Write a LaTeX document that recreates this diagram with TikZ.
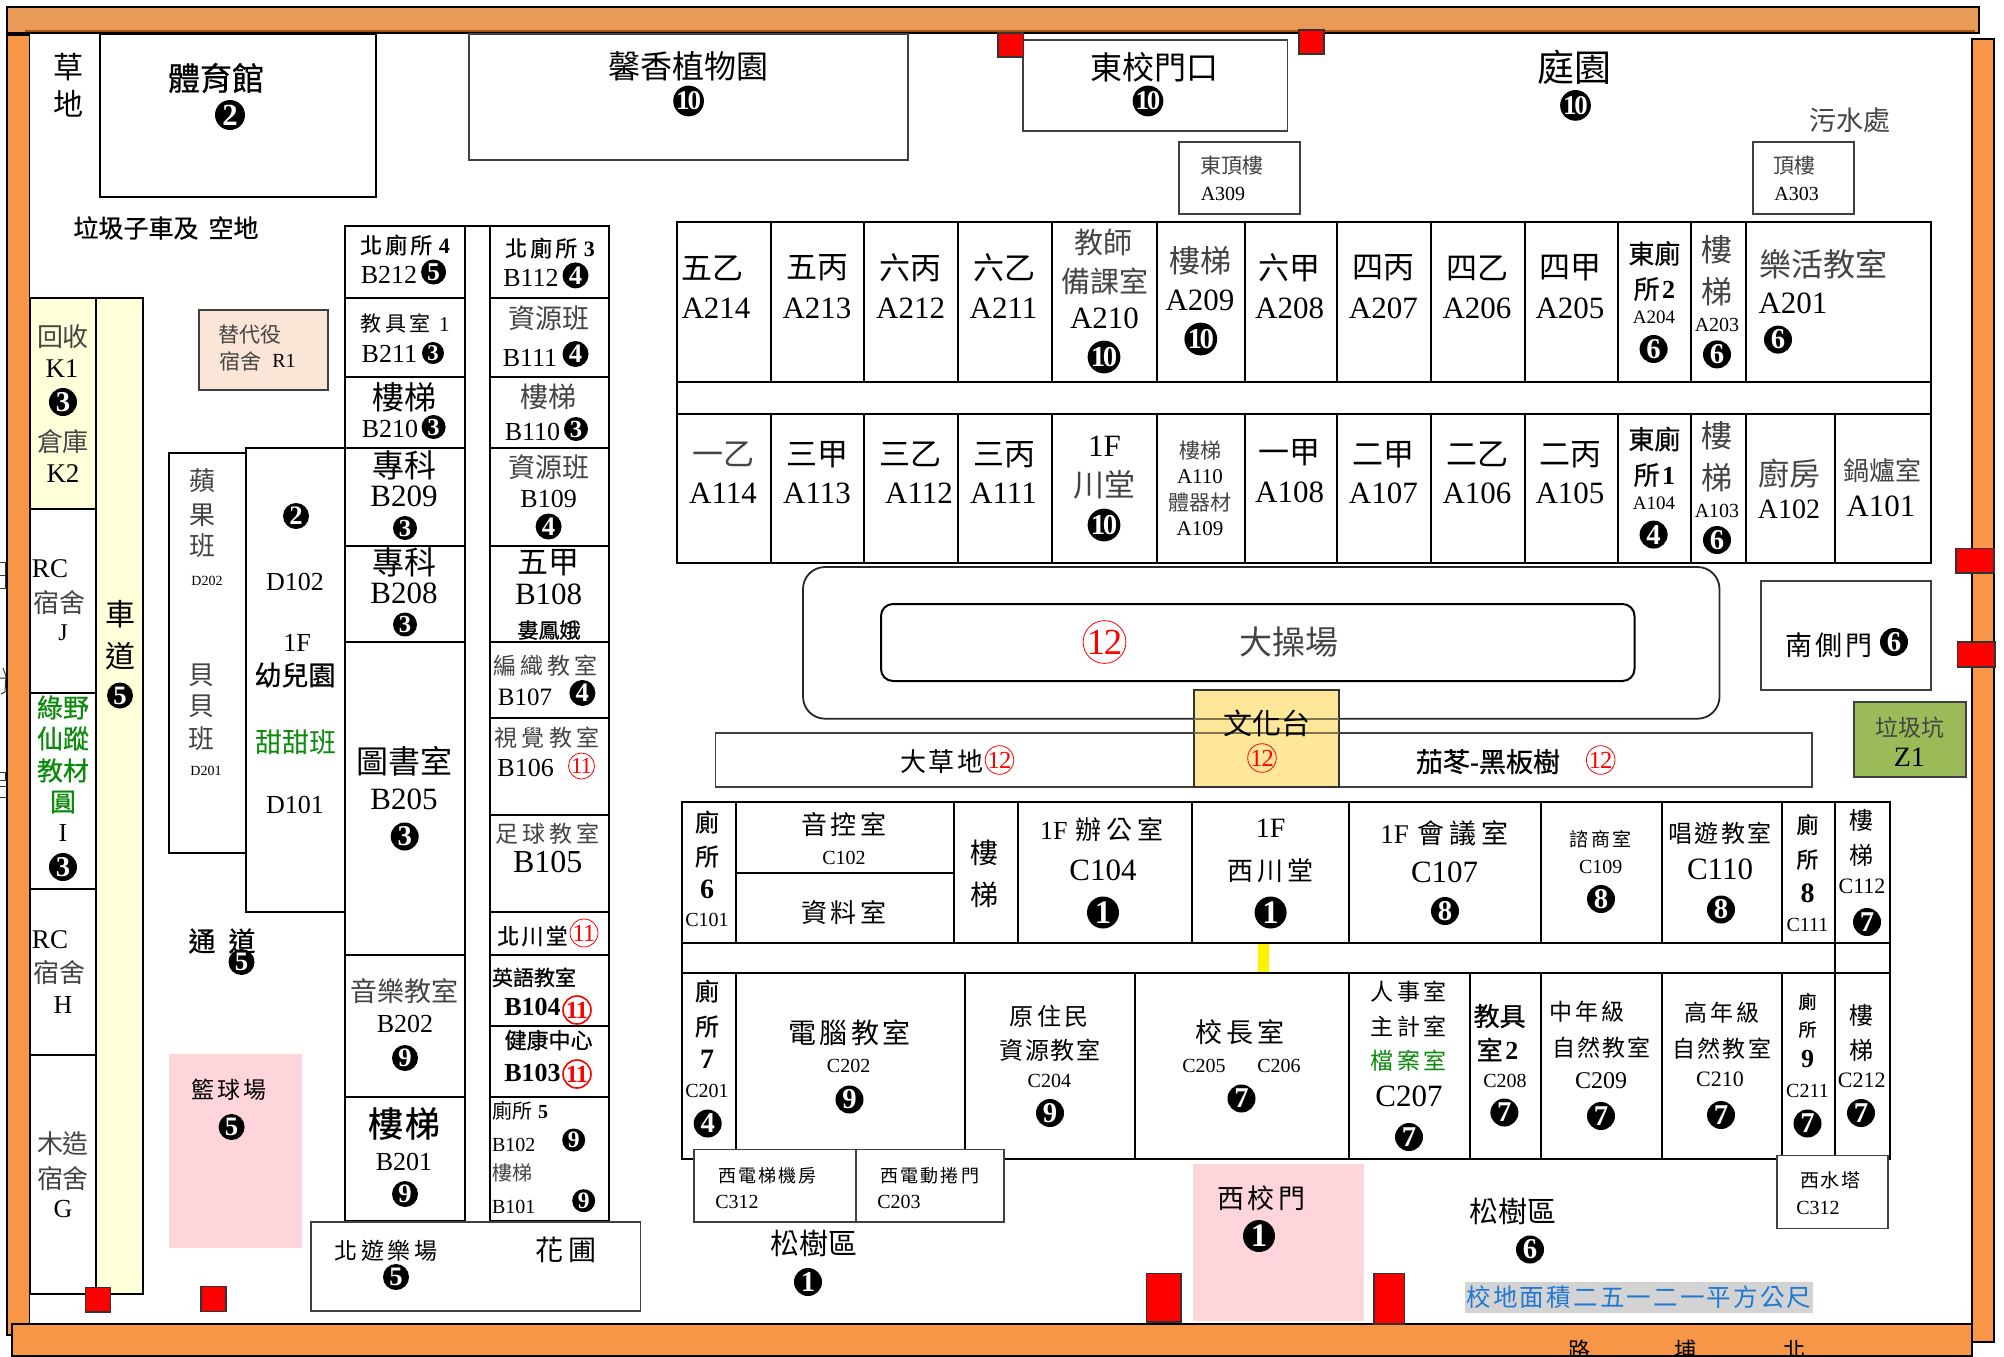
\documentclass[tikz,border=0pt]{standalone}
\usepackage{fontspec}
\setmainfont{Liberation Serif}
\newfontfamily\cjk{Noto Sans CJK TC}
\newfontfamily\cjkm[FakeBold=0.7]{Noto Sans CJK TC}
\usetikzlibrary{calc}
\definecolor{wallA}{HTML}{F79646}
\definecolor{wallB}{HTML}{E99A57}
\definecolor{wallC}{HTML}{A5500F}
\definecolor{cream}{HTML}{FFFFD9}
\definecolor{pinkz}{HTML}{FFD5DC}
\definecolor{peach}{HTML}{FBE5D6}
\definecolor{stagez}{HTML}{FFE799}
\definecolor{grassz}{HTML}{9BBB59}
\definecolor{greenz}{HTML}{0A8A0A}
\definecolor{bluez}{HTML}{1F78D2}
\definecolor{grayz}{HTML}{D3D3D3}
\definecolor{gy}{HTML}{444444}
\definecolor{redz}{HTML}{FF0000}
\tikzset{
  room/.style={draw=black,line width=1pt},
  roomg/.style={draw=black!75,line width=0.9pt,fill=white},
  redbox/.style={draw=black!80,line width=0.7pt,fill=redz},
  wall/.style={draw=black,line width=0.7pt,fill=wallA},
  lbl/.style={inner sep=0pt,outer sep=0pt,anchor=center},
  blackdot/.style={circle,fill=black,text=white,inner sep=0pt,outer sep=0pt},
  reddot/.style={circle,draw=redz,text=redz,inner sep=0pt,outer sep=0pt,line width=0.4pt},
}
\newcount\tn
\newcommand\fs[1]{\pgfmathsetlengthmacro\tmpfs{#1*0.5}\fontsize{\tmpfs}{\tmpfs}\selectfont}
\newcommand\lt[1]{{\rmfamily #1}}
\newcommand\lsp[1]{\addfontfeature{LetterSpace=#1}}
\newcommand\ZH[5][]{\global\advance\tn1 \node[lbl,#1] (t\the\tn) at (#2,#3) {\fs{#4}\cjk #5};}
\newcommand\ZB[5][]{\global\advance\tn1 \node[lbl,#1] (t\the\tn) at (#2,#3) {\fs{#4}\cjkm #5};}
\newcommand\LA[5][]{\global\advance\tn1 \node[lbl,#1] (t\the\tn) at (#2,#3) {\fs{#4}#5};}
\newcommand\LB[5][]{\global\advance\tn1 \node[lbl,#1] (t\the\tn) at (#2,#3) {\fs{#4}\bfseries #5};}
\newcommand\BC[4]{\global\advance\tn1 \node[blackdot,minimum size=#3pt] (t\the\tn) at (#1,#2) {\pgfmathsetmacro\tmpr{#3*2.05}\fs{\tmpr}\bfseries #4};}
\newcommand\BD[4]{\global\advance\tn1 \node[blackdot,minimum size=#3pt] (t\the\tn) at (#1,#2) {\pgfmathsetmacro\tmpr{#3*1.8}\fs{\tmpr}\bfseries\addfontfeature{LetterSpace=-8}#4};}
\newcommand\RC[4]{\global\advance\tn1 \node[reddot,minimum size=#3pt] (t\the\tn) at (#1,#2) {\pgfmathsetmacro\tmpr{#3*1.75}\fs{\tmpr}\addfontfeature{LetterSpace=-4}#4};}
\newcommand\RCB[4]{\global\advance\tn1 \node[reddot,line width=0.8pt,minimum size=#3pt] (t\the\tn) at (#1,#2) {\pgfmathsetmacro\tmpr{#3*1.75}\fs{\tmpr}\bfseries\addfontfeature{LetterSpace=-4}#4};}
\begin{document}
\begin{tikzpicture}[x=0.5pt,y=-0.5pt]
\useasboundingbox (0,0) rectangle (2004,1356);
\fill[white] (0,0) rectangle (2004,1356);
% slivers of text cut off beyond the left edge
\draw[black!80,line width=0.5pt] (0,562)--(5,562)--(5,588)--(0,588) (0,575)--(5,575);
\draw[black!80,line width=0.5pt] (3,668)--(6,676)--(5,692)--(1,694) (0,678)--(6,678);
\draw[black!80,line width=0.5pt] (0,772)--(5,772)--(5,780)--(0,780) (0,786)--(6,786)--(6,797)--(0,797);
% walls
\draw[wall] (7,35) rectangle (29.5,1335);
\draw[wall] (1972,39) rectangle (1994,1342);
\draw[wall] (12,1324) rectangle (1972,1356);
\draw[draw=black,line width=0.8pt,fill=wallB] (7,7) rectangle (1979,33);
\draw[wallC,line width=1pt] (25,31) -- (1975,31);
% left strip
\draw[room,fill=cream] (29.5,298) rectangle (96,508.5);
\draw[room,fill=cream] (96,298) rectangle (143,1294);
\draw[room] (29.5,508.5) rectangle (96,693);
\draw[room] (29.5,693) rectangle (96,888.6);
\draw[room] (29.5,888.6) rectangle (96,1055);
\draw[room] (29.5,1055) rectangle (96,1294);
% upper boxes
\draw[room] (100,34) rectangle (376,197);
\draw[roomg] (469,34) rectangle (908,160);
\draw[roomg] (1023,40) rectangle (1287.5,130.6);
\draw[roomg] (1178.6,141.7) rectangle (1299.6,213.8);
\draw[roomg] (1753,141.7) rectangle (1854,213.8);
\draw[draw=black!75,line width=0.9pt,fill=peach] (199,310) rectangle (328,390);
% kindergarten
\draw[room] (169,453) rectangle (246,853);
\draw[room] (246,448) rectangle (345,912);
% pink areas
\fill[pinkz] (169,1054) rectangle (302,1248);
\fill[pinkz] (1193,1164) rectangle (1364,1321);
% B columns
\draw[room] (345,226) rectangle (465,1221);
\draw[room] (490,226) rectangle (609,1221);
\draw[room] (465,226) -- (490,226);
\foreach \yy in {298,377,447.5,545.5,642,954.6,1097} \draw[room] (345,\yy) -- (465,\yy);
\foreach \yy in {298,377,447.5,545.5,642,718,815,912,955,1026,1097} \draw[room] (490,\yy) -- (609,\yy);
\draw[roomg] (311,1222) rectangle (640.5,1310.6);
% A block
\draw[room] (677.3,222) rectangle (1931,562.7);
\draw[room] (677.3,382) -- (1931,382);
\draw[room] (677.3,414) -- (1931,414);
\foreach \xx in {771,863.8,958,1052,1157,1244.6,1337,1431,1525,1618,1691,1746} {
  \draw[room] (\xx,222) -- (\xx,382);
  \draw[room] (\xx,414) -- (\xx,562.7);
}
\draw[room] (1835,414) -- (1835,562.7);
% playground
\draw[draw=black!85,line width=0.9pt,rounded corners=11pt] (803,567) rectangle (1719.5,718.7);
\draw[draw=black,line width=1pt,rounded corners=6pt] (881,604) rectangle (1634.5,681);
\draw[roomg,fill=none] (715.5,733) rectangle (1812,786.7);
\draw[draw=black!80,line width=1pt,fill=stagez] (1194,690) rectangle (1338.6,786.7);
\draw[black!50!stagez,line width=0.9pt] (1194,718.7) -- (1338.6,718.7);
\draw[black!50!stagez,line width=0.9pt] (1194,733) -- (1338.6,733);
\draw[roomg] (1761,581) rectangle (1931,690);
\draw[draw=black!75,line width=0.9pt,fill=grassz] (1854,702) rectangle (1966,776.7);
% C block
\draw[room] (681.7,802) rectangle (1890,1159);
\draw[room] (681.7,943) -- (1890,943);
\draw[room] (681.7,973) -- (1890,973);
\draw[room] (736,872.7) -- (954,872.7);
\foreach \xx in {736,954,1017.8,1192,1349,1541,1662,1782} \draw[room] (\xx,802) -- (\xx,943);
\draw[room] (1835,802) -- (1835,1159);
\foreach \xx in {736,965,1135,1349,1470,1541,1662,1782} \draw[room] (\xx,973) -- (\xx,1159);
\fill[yellow] (1258,944) rectangle (1269,972);
\draw[roomg] (693.8,1149.5) rectangle (856,1222);
\draw[roomg] (856,1149.5) rectangle (1004,1222);
\draw[roomg] (1776.7,1155.5) rectangle (1887.7,1228.5);
\fill[grayz] (1465,1282) rectangle (1813,1312.5);
% red markers
\draw[redbox] (85.4,1287.5) rectangle (110.6,1312);
\draw[redbox] (200.8,1286.5) rectangle (226,1311.5);
\draw[redbox] (998,33) rectangle (1023.4,57);
\draw[redbox] (1299,30) rectangle (1324,54);
\draw[redbox] (1956,548.6) rectangle (1994,573);
\draw[redbox] (1957.6,642) rectangle (1995,667);
\draw[redbox] (1146.5,1273.5) rectangle (1181,1322);
\draw[redbox] (1374,1273.5) rectangle (1404.7,1324);
% ===== labels: top area
\ZH{69}{67}{30}{草}
\ZH{69}{104}{30}{地}
\ZB{216}{78}{32}{體育館}
\BC{230}{115}{15}{2}
\ZB{166}{228}{25}{垃圾子車及\hspace{0.4em}空地}
\ZH{688}{66}{32}{馨香植物園}
\BD{688.6}{101}{15}{10}
\ZH{1154}{67}{32}{東校門口}
\BD{1148}{101}{15}{10}
\ZH{1574.6}{67}{37}{庭園}
\BD{1575.5}{105.4}{15}{10}
\ZH[text=gy]{1850}{120}{27}{污水處}
\ZH[text=gy]{1231.5}{165.7}{21}{東頂樓}
\LA{1223}{193.5}{20}{A309}
\ZH[text=gy]{1794.5}{165.7}{21}{頂樓}
\LA{1796.7}{193.5}{20}{A303}
% left strip
\ZH[text=gy]{63}{337}{26}{回收}
\LA{62}{369}{27}{K1}
\BC{63}{402}{14}{3}
\ZH[text=gy]{63}{442}{26}{倉庫}
\LA{63}{473.5}{27}{K2}
\LA{50}{568.5}{27}{RC}
\ZH[text=gy]{59.4}{602.5}{26}{宿舍}
\LA{63}{633}{24}{J}
\ZB[text=greenz]{63}{707.5}{26}{綠野}
\ZB[text=greenz]{63}{738.5}{26}{仙蹤}
\ZB[text=greenz]{63}{770.5}{26}{教材}
\ZB[text=greenz]{63}{802}{26}{圓}
\LA{63}{833}{26}{I}
\BC{63}{867}{14}{3}
\LA{50}{939.5}{27}{RC}
\ZH[text=gy]{59}{973}{26}{宿舍}
\LA{63}{1004.5}{26}{H}
\ZH[text=gy]{63}{1144}{26}{木造}
\ZH[text=gy]{63}{1179}{26}{宿舍}
\LA{63}{1209.5}{26}{G}
\ZH{120}{614}{30}{車}
\ZH{120}{656}{30}{道}
\BC{120}{695.5}{13}{5}
% R1
\ZH[text=gy]{250}{335}{21}{替代役}
\ZH[text=gy,anchor=west]{219}{361}{21}{宿舍}
\LA[text=black]{284}{361}{20}{R1}
% kindergarten
\ZH[text=gy]{202.5}{481}{26}{蘋}
\ZH[text=gy]{202.5}{515}{26}{果}
\ZH[text=gy]{202.5}{546}{26}{班}
\LA{207}{580.6}{14}{D202}
\ZH[text=gy]{201.6}{675.5}{26}{貝}
\ZH[text=gy]{201.6}{706.5}{26}{貝}
\ZH[text=gy]{201.6}{738.5}{26}{班}
\LA{206}{771}{14}{D201}
\BC{296}{516}{13}{2}
\LA{295}{582}{26}{D102}
\LA{297}{643}{26}{1F}
\ZB{295}{675}{27}{幼兒園}
\ZH[text=greenz]{296}{742}{27}{甜甜班}
\LA{295}{805}{26}{D101}
% B2
\ZB{405}{245}{22}{\lsp{14}北廁所\hspace{0.3em}\lt{\bfseries 4}}
\LA{389}{274.5}{26}{B212}
\BC{433.6}{272}{12.5}{5}
\ZH{405}{323}{21}{\lsp{18}教具室\hspace{0.4em}\lt{1}}
\LA{389.4}{354}{26}{B211}
\BC{433}{353}{11}{3}
\ZH{404}{397.5}{32}{樓梯}
\LA{390}{429}{26}{B210}
\BC{433.6}{427}{12}{3}
\ZH{404}{465.5}{32}{專科}
\LA{404}{496.5}{31}{B209}
\BC{405}{528}{12}{3}
\ZH{404}{562}{32}{專科}
\LA{404}{593.5}{31}{B208}
\BC{405}{624.5}{12}{3}
\ZH{404.6}{761}{32}{圖書室}
\LA{404}{799.5}{31}{B205}
\BC{404.7}{836.5}{14}{3}
\ZH[text=gy]{404.7}{991.5}{27}{音樂教室}
\LA{405}{1023.5}{26}{B202}
\BC{405}{1058}{13}{9}
\ZB{404}{1123.5}{35}{樓\hspace{0.05em}梯}
\LA{404}{1161.5}{26}{B201}
\BC{405}{1194}{13}{9}
% B1
\ZB{550}{248}{22}{\lsp{14}北廁所\hspace{0.3em}\lt{\bfseries 3}}
\LA{531}{278}{26}{B112}
\BC{575.5}{275.4}{13}{4}
\ZH[text=gy]{549}{318.5}{27}{資源班}
\LA{530}{358}{26}{B111}
\BC{575.5}{354}{13}{4}
\ZH[text=gy]{548.6}{396.5}{28}{樓梯}
\LA{532.5}{431.5}{26}{B110}
\BC{576}{429}{12}{3}
\ZH[text=gy]{549}{467.5}{27}{資源班}
\LA{548.6}{498.7}{26}{B109}
\BC{548.6}{526.5}{13}{4}
\ZH{548.6}{563}{31}{五甲}
\LA{548.6}{594}{31}{B108}
\ZB{549}{630}{21}{婁鳳娥}
\ZH[text=gy]{545.5}{666}{23}{\lsp{18}編織教室}
\LA{525}{697}{25}{B107}
\BC{582.4}{693}{13}{4}
\ZH[text=gy]{547}{737.5}{23}{\lsp{18}視覺教室}
\LA{525.6}{767.5}{26}{B106}
\RC{581.5}{766}{13}{11}
\ZH[text=gy]{547.7}{834}{23}{\lsp{18}足球教室}
\LA{547.7}{862.5}{32}{B105}
\ZB{532.5}{936}{22}{\lsp{10}北川堂}
\RC{584}{933}{14}{11}
\ZB{534}{977.4}{21}{英語教室}
\LB{532.5}{1007}{26}{B104}
\RCB{577}{1010}{14}{11}
\ZB{548.6}{1040}{22}{健康中心}
\LB{532.5}{1072.5}{26}{B103}
\RCB{577}{1074}{14}{11}
\ZH[anchor=west]{492}{1111}{20}{廁所\hspace{0.3em}\lt{\bfseries 5}}
\LA[anchor=west]{492}{1145}{20}{B102}
\BC{573.7}{1140}{11.5}{9}
\ZH[anchor=west,text=gy]{492}{1173}{20}{樓梯}
\LA[anchor=west]{492}{1206.5}{20}{B101}
\BC{583.7}{1200.7}{11.5}{9}
% passage
\ZB{202}{941}{27}{通}
\ZB{242}{941}{27}{道}
\BC{241.5}{962}{13}{5}
\ZH{229}{1090}{23}{\lsp{15}籃球場}
\BC{231.6}{1127}{13}{5}
\ZH{386}{1250.5}{23}{\lsp{15}北遊樂場}
\BC{396}{1277}{13}{5}
\ZH{566}{1249.5}{28}{\lsp{15}花圃}
% A top
\ZH{712}{268}{31}{五乙}
\LA{716}{308.5}{31}{A214}
\ZH{817}{268}{31}{五丙}
\LA{817}{308.5}{31}{A213}
\ZH{910.6}{268}{31}{六丙}
\LA{910.6}{308.5}{31}{A212}
\ZH{1004}{268}{31}{六乙}
\LA{1003.5}{308.5}{31}{A211}
\ZH[text=gy]{1103.6}{242}{29}{教師}
\ZH[text=gy]{1104.5}{281}{29}{備課室}
\LA{1104.5}{318}{31}{A210}
\BD{1104}{357}{16}{10}
\ZH[text=gy]{1200}{260.5}{31}{樓梯}
\LA{1200}{300.5}{31}{A209}
\BD{1200.8}{339}{16}{10}
\ZH{1289.6}{268}{31}{六甲}
\LA{1289.6}{308.5}{31}{A208}
\ZH{1383.4}{268}{31}{四丙}
\LA{1383.4}{308.5}{31}{A207}
\ZH{1477}{268}{31}{四乙}
\LA{1477}{308.5}{31}{A206}
\ZH{1570}{268}{31}{四甲}
\LA{1570}{308.5}{31}{A205}
\ZB{1654.4}{253.4}{26}{東廁}
\ZB{1654.4}{289}{26}{所\hspace{0.1em}\lt{\bfseries 2}}
\LA{1654}{317.4}{19}{A204}
\BC{1653.6}{349}{14}{6}
\ZH[text=gy]{1717}{250}{31}{樓}
\ZH[text=gy]{1717}{292}{31}{梯}
\LA{1717}{324.5}{20}{A203}
\BC{1717}{354.4}{14}{6}
\ZH[text=gy]{1823.6}{264.5}{32}{樂活教室}
\LA{1793}{303.5}{31}{A201}
\BC{1778}{339.6}{14}{6}
% A bottom
\ZH[text=gy]{723}{454.5}{31}{一乙}
\LA{723}{493.5}{31}{A114}
\ZH{817}{454.5}{31}{三甲}
\LA{817}{493.5}{31}{A113}
\ZH{910.6}{454.5}{31}{三乙}
\LA{919}{493.5}{31}{A112}
\ZH{1004}{454.5}{31}{三丙}
\LA{1003.5}{493.5}{31}{A111}
\LA{1104.5}{445.8}{31}{1F}
\ZH[text=gy]{1104.5}{484.5}{31}{川堂}
\BD{1104}{525}{16}{10}
\ZH[text=gy]{1200}{450.5}{21}{樓梯}
\LA{1200}{476.5}{21}{A110}
\ZH[text=gy]{1200}{502.5}{21}{體器材}
\LA{1200}{528.5}{21}{A109}
\ZH{1289.6}{453}{31}{一甲}
\LA{1289.6}{492.5}{31}{A108}
\ZH{1383.4}{454.5}{31}{二甲}
\LA{1383.4}{493.5}{31}{A107}
\ZH{1477}{454.5}{31}{二乙}
\LA{1477}{493.5}{31}{A106}
\ZH{1570}{454.5}{31}{二丙}
\LA{1570}{493.5}{31}{A105}
\ZB{1654.4}{439}{26}{東廁}
\ZB{1654.4}{475}{26}{所\hspace{0.1em}\lt{\bfseries 1}}
\LA{1654}{503}{19}{A104}
\BC{1653.6}{534.6}{14}{4}
\ZH[text=gy]{1717}{436}{31}{樓}
\ZH[text=gy]{1717}{478}{31}{梯}
\LA{1717}{510.5}{20}{A103}
\BC{1717}{540}{14}{6}
\ZH[text=gy]{1789}{473.5}{31}{廚房}
\LA{1789}{509}{28}{A102}
\ZH[text=gy]{1882}{470.5}{26}{鍋爐室}
\LA{1881}{506}{31}{A101}
% playground
\RC{1104.5}{642}{21}{12}
\ZH[text=gy]{1289}{642.5}{33}{大操場}
\ZH{1267}{723.5}{29}{文化台}
\RC{1262}{758}{14}{12}
\ZH{942}{761.5}{26}{\lsp{8}大草地}
\RC{999.5}{760}{14}{12}
\ZB{1488}{761.7}{27}{茄苳\lt{\bfseries -}黑板樹}
\RC{1600.7}{760}{14}{12}
\ZH{1829}{645.5}{27}{\lsp{12}南側門}
\BC{1894}{642}{14}{6}
\ZH[text=gy]{1910}{727.5}{23}{垃圾坑}
\LA{1909.4}{757}{28}{Z1}
% C row 1
\ZB{707}{822}{24}{廁}
\ZB{707}{856.5}{24}{所}
\LB{707}{889.5}{28}{6}
\LA{707}{919.5}{20}{C101}
\ZH{844}{824.5}{26}{\lsp{15}音控室}
\LA{844}{857.5}{20}{C102}
\ZH{844}{912}{26}{\lsp{15}資料室}
\ZH{984}{852.5}{28}{樓}
\ZH{984}{894.5}{28}{梯}
\ZH{1102}{829.5}{26}{\lt{1F}\hspace{0.3em}\lsp{20}辦公室}
\LA{1103}{870.5}{31}{C104}
\BC{1103}{912.5}{16}{1}
\LA{1270.6}{828.5}{28}{1F}
\ZH{1270.6}{870.5}{26}{\lsp{15}西川堂}
\BC{1270.6}{912.5}{16}{1}
\ZH{1444.6}{833.5}{27}{\lt{1F}\hspace{0.3em}\lsp{20}會議室}
\LA{1444.6}{872.5}{31}{C107}
\BC{1445}{911}{14}{8}
\ZH{1600.7}{839.5}{19}{\lsp{12}諮商室}
\LA{1600.7}{866.5}{20}{C109}
\BC{1601}{899}{14}{8}
\ZH{1720}{833.5}{24}{\lsp{10}唱遊教室}
\LA{1720}{869.5}{31}{C110}
\BC{1721}{909.5}{14}{8}
\ZB{1807.5}{824.5}{22}{廁}
\ZB{1807.5}{859.5}{22}{所}
\LB{1807.5}{893}{28}{8}
\LA{1807.5}{924.5}{20}{C111}
\ZH{1861.7}{820.5}{24}{樓}
\ZH{1861.7}{855.5}{24}{梯}
\LA{1862}{886.5}{22}{C112}
\BC{1867}{922}{14}{7}
% C row 2
\ZB{707}{991}{24}{廁}
\ZB{707}{1026.5}{24}{所}
\LB{707}{1059.5}{28}{7}
\LA{707}{1090.5}{20}{C201}
\BC{707.7}{1123.5}{14}{4}
\ZH{849.5}{1032.5}{28}{\lsp{12}電腦教室}
\LA{848.6}{1065.5}{20}{C202}
\BC{849.5}{1099.5}{14}{9}
\ZH{1049.4}{1016}{24}{\lsp{15}原住民}
\ZH{1050}{1050.5}{24}{\lsp{8}資源教室}
\LA{1049.4}{1080.5}{20}{C204}
\BC{1050}{1113}{14}{9}
\ZH{1240}{1032.5}{27}{\lsp{15}校長室}
\LA{1204}{1065.5}{20}{C205}
\LA{1279}{1065.5}{20}{C206}
\BC{1241.5}{1098.5}{14}{7}
\ZH{1408.6}{991.5}{23}{\lsp{15}人事室}
\ZH{1408.6}{1026.5}{23}{\lsp{15}主計室}
\ZH[text=greenz]{1408.6}{1061}{23}{\lsp{15}檔案室}
\LA{1409}{1096.5}{31}{C207}
\BC{1409}{1137}{14}{7}
\ZB{1499.6}{1016}{26}{教具}
\ZB{1497.5}{1049.5}{26}{室\hspace{0.1em}\lt{\bfseries 2}}
\LA{1505}{1080.5}{20}{C208}
\BC{1504.4}{1112.5}{14}{7}
\ZH{1587}{1011.5}{23}{\lsp{12}中年級}
\ZH{1601.5}{1047.5}{23}{\lsp{10}自然教室}
\LA{1601}{1080.5}{24}{C209}
\BC{1601}{1116}{14}{7}
\ZH{1722}{1013}{23}{\lsp{12}高年級}
\ZH{1721.7}{1048.5}{23}{\lsp{10}自然教室}
\LA{1720}{1079.5}{22}{C210}
\BC{1721}{1115}{14}{7}
\ZB{1807.5}{1001.5}{18}{廁}
\ZB{1807.5}{1029.5}{18}{所}
\LB{1807.5}{1059.5}{26}{9}
\LA{1807.5}{1090.5}{20}{C211}
\BC{1807.5}{1123.5}{14}{7}
\ZH{1861.7}{1015.5}{24}{樓}
\ZH{1861.7}{1050.5}{24}{梯}
\LA{1861.7}{1080.5}{22}{C212}
\BC{1861}{1113}{14}{7}
% lower
\ZH{767.5}{1175.5}{18}{\lsp{12}西電梯機房}
\LA{737}{1201.5}{20}{C312}
\ZH{929.7}{1175.5}{18}{\lsp{12}西電動捲門}
\LA{899}{1201.5}{20}{C203}
\ZH{814}{1243.5}{29}{松樹區}
\BC{808}{1282}{14}{1}
\ZH{1261.5}{1198.5}{27}{\lsp{12}西校門}
\BC{1259}{1236}{16}{1}
\ZH{1512.6}{1211.5}{29}{松樹區}
\BC{1530}{1249.5}{14}{6}
\ZH{1830.5}{1180.5}{19}{\lsp{10}西水塔}
\LA{1818}{1207.5}{20}{C312}
\ZH[text=bluez]{1639}{1297.5}{24.5}{\lsp{9}校地面積二五一二一平方公尺}
\ZH{1579}{1350}{22}{路}
\ZH{1685}{1350}{22}{埔}
\ZH{1794}{1350}{22}{北}
\end{tikzpicture}
\end{document}
